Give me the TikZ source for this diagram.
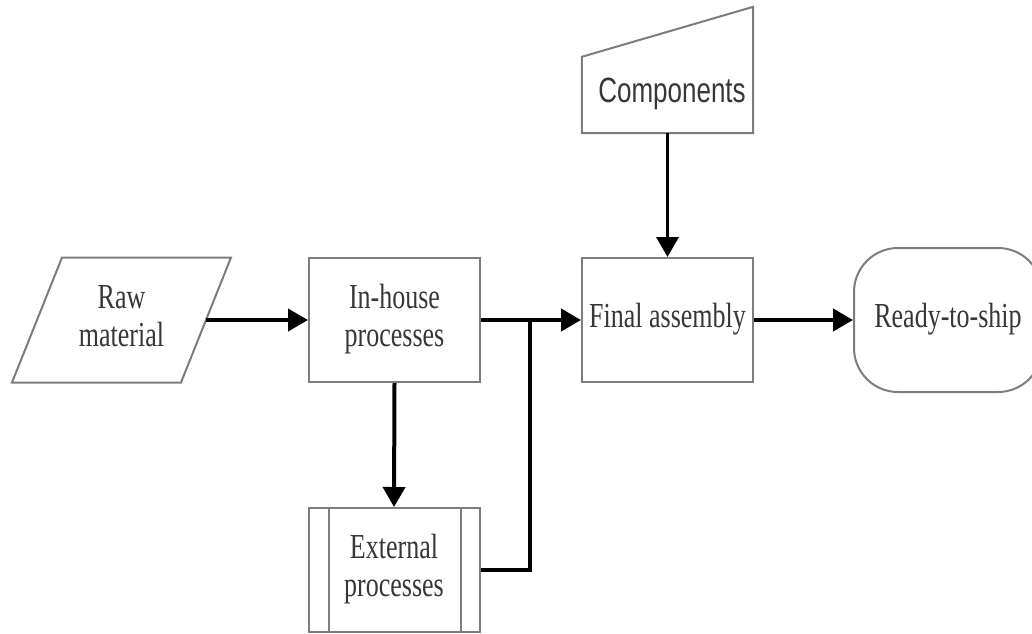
\documentclass[tikz,border=0pt]{standalone}
\usepackage{fontspec}
\setmainfont{Liberation Serif}
\setsansfont{Liberation Sans}
\usepackage{graphicx}
\usetikzlibrary{arrows.meta,calc}
\definecolor{boxgray}{RGB}{125,125,125}
\definecolor{txtgray}{RGB}{55,55,55}
\newcommand{\tx}[1]{\scalebox{1}[1.35]{\begin{tabular}{@{}c@{}}#1\end{tabular}}}
\begin{document}
\begin{tikzpicture}[x=1pt,y=-1pt,
  boxline/.style={draw=boxgray, line width=2pt, line join=miter},
  lbl/.style={inner sep=0pt, text=txtgray, font=\fontsize{26}{28}\selectfont},
  box/.style={lbl, boxline, fill=white, minimum width=171pt, minimum height=124pt},
  flow/.style={line width=4pt, -{Triangle[length=20pt,width=22pt]}},
  link/.style={line width=4pt}]
\useasboundingbox (0,0) rectangle (1032,633);
\fill[white] (0,0) rectangle (1032,633);

% Raw material (parallelogram)
\node[lbl, minimum width=120pt, minimum height=125pt] (raw) at (121.5,320) {\tx{Raw\\material}};
\draw[boxline] (12,382.5) -- (62,257.5) -- (231,257.5) -- (181,382.5) -- cycle;
\coordinate (rawE) at (206,320);

% Process boxes
\node[box] (inh) at (394.5,320) {\tx{In-house\\processes}};
\node[box] (fin) at (667.5,320) {\tx{Final assembly}};
\node[box] (ext) at (394,570) {\tx{External\\processes}};
\draw[boxline] ($(ext.north west)+(21,0)$) -- ($(ext.south west)+(21,0)$);
\draw[boxline] ($(ext.north east)+(-20,0)$) -- ($(ext.south east)+(-20,0)$);

% Ready-to-ship (terminal)
\node[box, rounded corners=44pt, minimum width=188pt, minimum height=144pt] (rdy) at (948,320) {\tx{Ready-to-ship}};

% Components (manual input)
\node[lbl, font=\sffamily\fontsize{26}{28}\selectfont, minimum width=171pt, minimum height=76pt] (comp) at (667.5,95) {\tx{\hspace{9pt}Components}};
\draw[boxline] (comp.south west) -- (comp.north west) -- ($(comp.north east)+(0,-50)$) -- (comp.south east) -- cycle;

% Connectors
\coordinate (jn) at (530,320);
\draw[flow] (rawE) -- (inh.west);
\draw[flow] (inh.east) -- (fin.west);
\draw[flow] (inh.south) -- (ext.north);
\draw[link] (ext.east) -| (jn);
\draw[flow, line width=3.5pt] (comp.south) -- (fin.north);
\draw[flow] (fin.east) -- (rdy.west);
\end{tikzpicture}
\end{document}
